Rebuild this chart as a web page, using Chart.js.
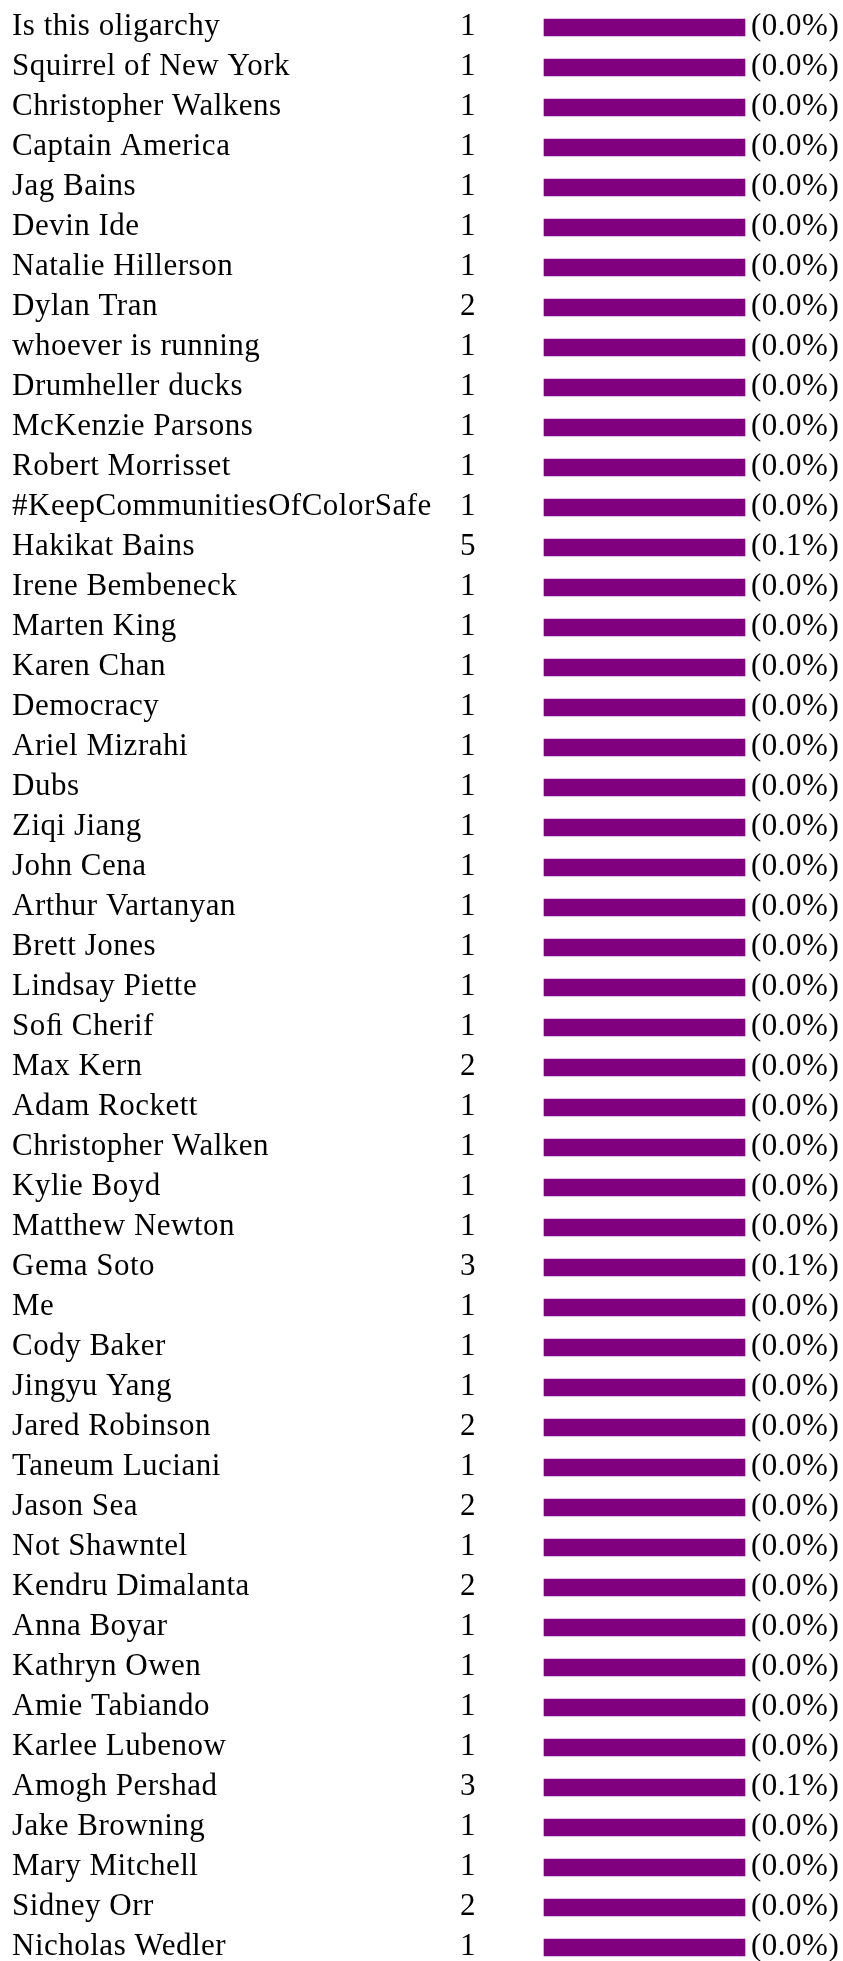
<!DOCTYPE html>
<html>
<head>
<meta charset="utf-8">
<title>Votos</title>
<script src="https://cdn.jsdelivr.net/npm/chart.js@4"></script>
<style>
  html, body { margin: 0; padding: 0; background: #ffffff; }
  #contenedor { width: 843px; height: 1961px; position: relative; }
</style>
</head>
<body>
<div id="contenedor"><canvas id="plot1"></canvas></div>
<script>
//Nombres de cada fila
let nombres = [
  'Is this oligarchy', 'Squirrel of New York', 'Christopher Walkens', 'Captain America',
  'Jag Bains', 'Devin Ide', 'Natalie Hillerson', 'Dylan Tran', 'whoever is running',
  'Drumheller ducks', 'McKenzie Parsons', 'Robert Morrisset', '#KeepCommunitiesOfColorSafe',
  'Hakikat Bains', 'Irene Bembeneck', 'Marten King', 'Karen Chan', 'Democracy',
  'Ariel Mizrahi', 'Dubs', 'Ziqi Jiang', 'John Cena', 'Arthur Vartanyan', 'Brett Jones',
  'Lindsay Piette', 'Soﬁ Cherif', 'Max Kern', 'Adam Rockett', 'Christopher Walken',
  'Kylie Boyd', 'Matthew Newton', 'Gema Soto', 'Me', 'Cody Baker', 'Jingyu Yang',
  'Jared Robinson', 'Taneum Luciani', 'Jason Sea', 'Not Shawntel', 'Kendru Dimalanta',
  'Anna Boyar', 'Kathryn Owen', 'Amie Tabiando', 'Karlee Lubenow', 'Amogh Pershad',
  'Jake Browning', 'Mary Mitchell', 'Sidney Orr', 'Nicholas Wedler'
];

//Votos de cada fila
let votos = [
  1, 1, 1, 1, 1, 1, 1, 2, 1, 1, 1, 1, 1, 5, 1, 1, 1, 1, 1, 1, 1, 1, 1, 1, 1,
  1, 2, 1, 1, 1, 1, 3, 1, 1, 1, 2, 1, 2, 1, 2, 1, 1, 1, 1, 3, 1, 1, 2, 1
];

//Porcentajes mostrados a la derecha
let porcentajes = [
  0.0, 0.0, 0.0, 0.0, 0.0, 0.0, 0.0, 0.0, 0.0, 0.0, 0.0, 0.0, 0.0, 0.1, 0.0, 0.0, 0.0, 0.0, 0.0, 0.0, 0.0, 0.0, 0.0, 0.0, 0.0,
  0.0, 0.0, 0.0, 0.0, 0.0, 0.0, 0.1, 0.0, 0.0, 0.0, 0.0, 0.0, 0.0, 0.0, 0.0, 0.0, 0.0, 0.0, 0.0, 0.1, 0.0, 0.0, 0.0, 0.0
];

//Largo de cada barra (todas se ven del mismo largo)
let barras = [
  100, 100, 100, 100, 100, 100, 100, 100, 100, 100, 100, 100, 100, 100, 100, 100, 100, 100, 100, 100, 100, 100, 100, 100, 100,
  100, 100, 100, 100, 100, 100, 100, 100, 100, 100, 100, 100, 100, 100, 100, 100, 100, 100, 100, 100, 100, 100, 100, 100
];

let fuente = '31px "Liberation Serif", "Times New Roman", serif';

//Plugin que escribe nombre, votos y porcentaje en cada fila
let columnasTexto = {
  id: 'columnasTexto',
  afterDatasetsDraw: (chart) => {
    let ctx = chart.ctx;
    let escalaY = chart.scales.y;
    ctx.save();
    ctx.font = fuente;
    ctx.letterSpacing = '0.5px';
    ctx.fillStyle = '#000000';
    ctx.textBaseline = 'alphabetic';
    for (let index = 0; index < nombres.length; index++) {
      let y = escalaY.getPixelForValue(index) + 7.5;
      ctx.textAlign = 'left';
      ctx.fillText(nombres[index], 12, y);
      ctx.textAlign = 'center';
      ctx.fillText(String(votos[index]), 468, y);
      ctx.textAlign = 'left';
      ctx.fillText(`(${porcentajes[index].toFixed(1)}%)`, 751, y);
    }
    ctx.restore();
  }
};

let plotRef = document.getElementById('plot1');

let config = {
  type: 'bar',
  data: {
    labels: nombres,
    datasets: [
      {
        label: 'Votos',
        data: barras,
        backgroundColor: '#800080',
        borderWidth: 0,
        barThickness: 17,
        clip: false
      }
    ]
  },
  options: {
    indexAxis: 'y',
    responsive: true,
    maintainAspectRatio: false,
    animation: false,
    layout: {
      padding: { left: 544, right: 98, top: 27.5, bottom: 13.5 }
    },
    scales: {
      x: { display: false, min: 0, max: 100 },
      y: { display: false, offset: false }
    },
    plugins: {
      legend: { display: false },
      tooltip: { enabled: false }
    }
  },
  plugins: [columnasTexto]
};

let chart1 = new Chart(plotRef, config);
</script>
</body>
</html>
